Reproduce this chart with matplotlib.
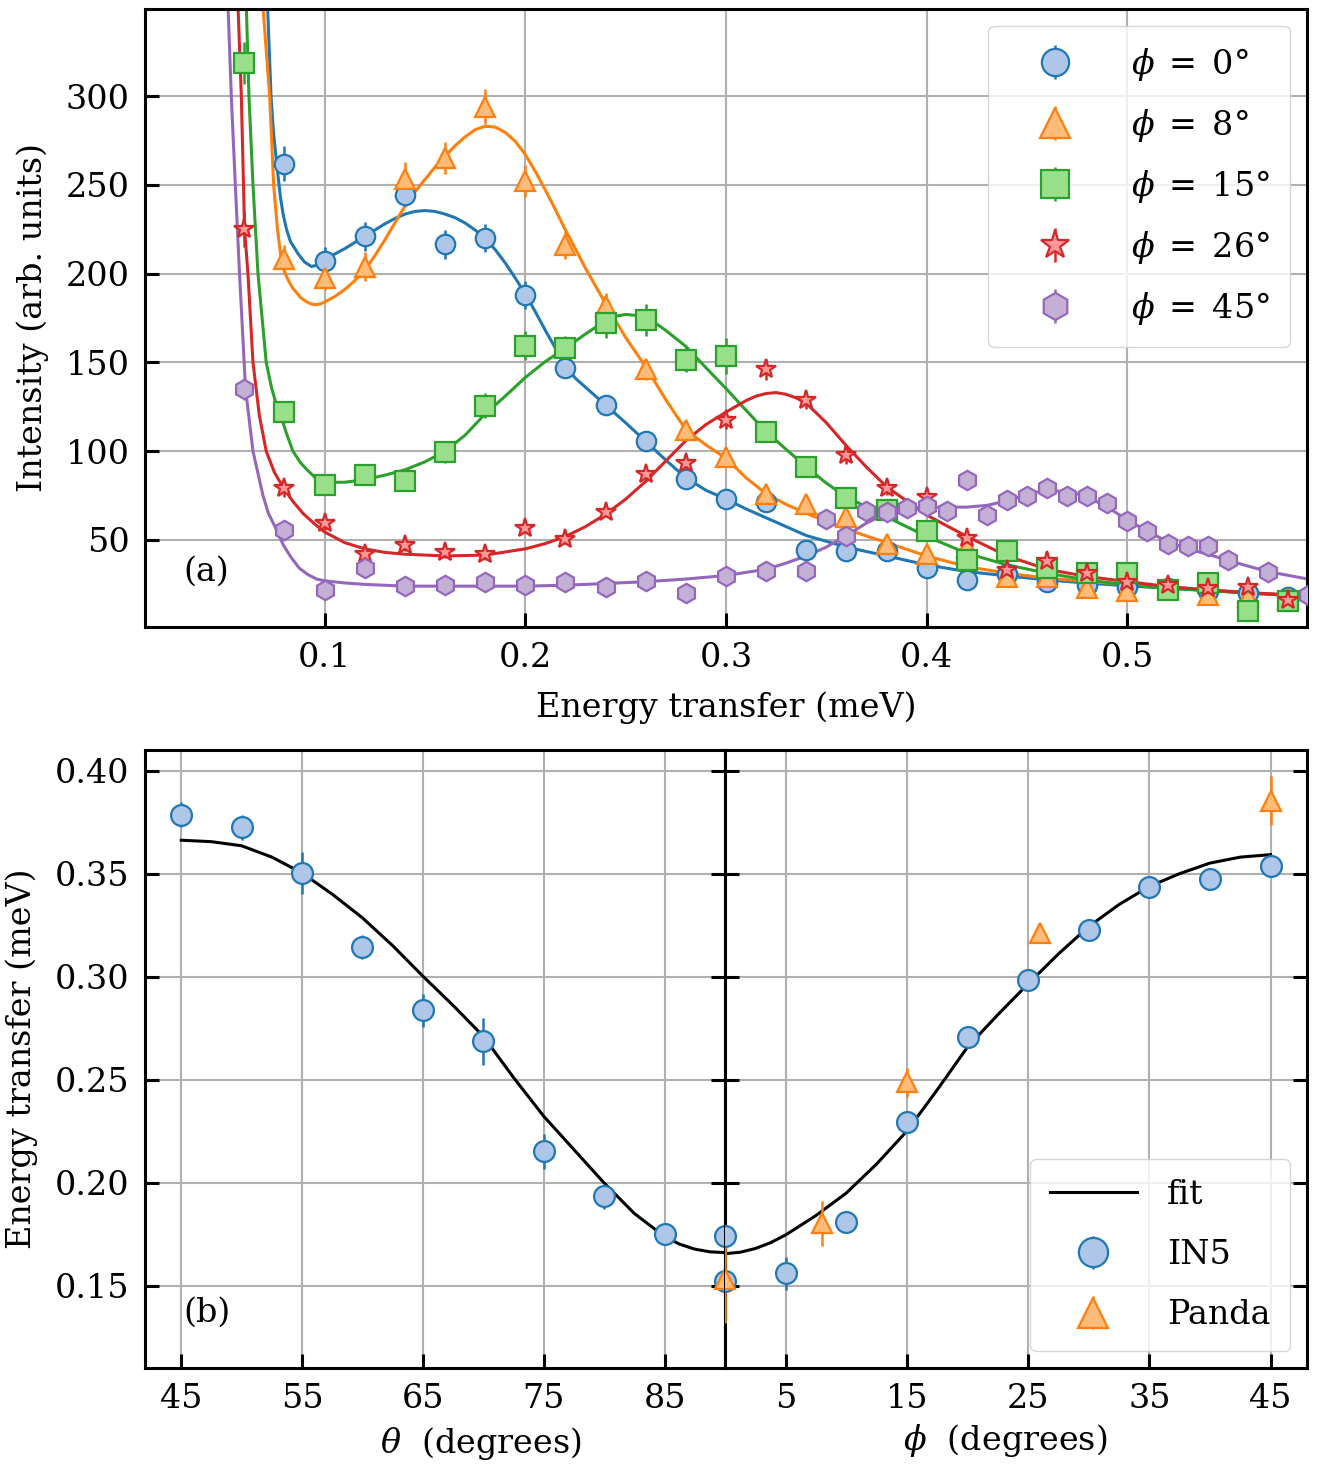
import matplotlib
matplotlib.use("Agg")
import matplotlib.pyplot as plt
from matplotlib.ticker import FormatStrFormatter

plt.rcParams['font.family'] = ['DejaVu Serif']
plt.rcParams['mathtext.fontset'] = 'dejavuserif'
plt.rcParams['font.size'] = 24

# ---- Painel (a): espectros medidos para cada angulo phi ----
energia = [0.06, 0.08, 0.10, 0.12, 0.14, 0.16, 0.18, 0.20, 0.22, 0.24, 0.26, 0.28, 0.30, 0.32,
           0.34, 0.36, 0.38, 0.40, 0.42, 0.44, 0.46, 0.48, 0.50, 0.52, 0.54, 0.56, 0.58]
energia_08 = energia[1:]

int_phi0 = [262, 207, 221, 244, 216.5, 220, 188, 147, 126, 105.5, 84.5, 73, 71.5, 44.5, 44, 44,
            34, 27.5, 31, 26.5, 24.5, 23.5, 23, 21, 20, 18]
err_phi0 = [10, 8, 8, 6, 8, 8, 8, 6, 5, 5, 4, 4, 4, 3, 3, 3, 3, 3, 3, 3, 3, 3, 3, 3, 3, 3]

int_phi8 = [208, 197.5, 204, 253, 265, 294, 252, 216, 182, 146, 112, 97, 76, 70, 63, 48, 42, 46,
            29, 29, 23, 21, 23, 19, 18, 17]
err_phi8 = [8, 7, 8, 10, 9, 10, 9, 8, 7, 6, 5, 5, 4, 4, 4, 3, 3, 3, 3, 3, 3, 3, 3, 3, 3, 3]

int_phi15 = [318.5, 122, 81, 86.5, 83, 99.5, 125.5, 159.5, 158, 172, 174, 151.5, 153.5, 111, 91,
             73.5, 67, 55, 38.5, 44, 34, 31.5, 31.5, 22, 25.5, 10, 15.5]
err_phi15 = [12, 6, 5, 5, 5, 6, 7, 8, 7, 8, 9, 7, 10, 6, 5, 4, 4, 4, 3, 3, 3, 3, 3, 3, 3, 3, 3]

int_phi26 = [225, 79, 59.5, 42, 47, 43, 42, 57, 50.5, 66, 87, 93.5, 117.5, 146, 129, 98, 79.5,
             74.3, 51, 33, 38, 31.6, 26.6, 24.7, 23.2, 23.8, 16.3]
err_phi26 = [10, 5, 4, 3, 3, 3, 3, 3, 3, 3, 4, 4, 5, 6, 5, 5, 4, 4, 3, 3, 3, 3, 3, 3, 3, 3, 3]

energia_45 = [0.06, 0.08, 0.10, 0.12, 0.14, 0.16, 0.18, 0.20, 0.22, 0.24, 0.26, 0.28, 0.30, 0.32,
              0.34, 0.35, 0.36, 0.37, 0.38, 0.39, 0.40, 0.41, 0.42, 0.43, 0.44, 0.45, 0.46, 0.47,
              0.48, 0.49, 0.50, 0.51, 0.52, 0.53, 0.54, 0.55, 0.57, 0.59]
int_phi45 = [135, 55.5, 22, 34.5, 24, 24.7, 26.5, 24.7, 26.5, 23.5, 27, 20.3, 29.7, 32.5, 32.5,
             62, 52, 66.5, 65.5, 68, 69, 66.5, 83.5, 64, 72.5, 74.5, 79, 74.5, 74.5, 71, 60.5,
             55, 47.5, 46.5, 46.5, 39, 32, 19]
err_phi45 = [6, 3, 3, 5, 3, 3, 3, 3, 3, 3, 3, 3, 3, 3, 3, 3, 3, 3, 3, 3, 3, 3, 5, 3, 3, 3, 5, 3,
             3, 3, 3, 3, 3, 3, 3, 3, 3, 3]

# curvas de ajuste
fit0_x = [0.0705, 0.0716, 0.0733, 0.0745, 0.0761, 0.078, 0.0794, 0.081, 0.083, 0.0869, 0.09,
          0.0935, 0.097, 0.10, 0.105, 0.11, 0.115, 0.12, 0.125, 0.13, 0.135, 0.14, 0.145, 0.15,
          0.155, 0.16, 0.165, 0.17, 0.175, 0.18, 0.185, 0.19, 0.195, 0.20, 0.205, 0.21, 0.215,
          0.22, 0.225, 0.23, 0.24, 0.25, 0.26, 0.27, 0.28, 0.29, 0.30, 0.31, 0.32, 0.34, 0.36,
          0.38, 0.40, 0.42, 0.44, 0.46, 0.48, 0.50, 0.52, 0.55, 0.59]
fit0_y = [380, 350, 300, 280, 262, 243, 233, 225, 218, 211, 206.5, 204, 205, 207.5, 211, 214,
          217.5, 221, 224.5, 228, 231, 233.5, 235, 235.5, 235, 233.5, 231.5, 228.5, 224.5, 220,
          213.5, 206, 197.5, 188.5, 178.5, 168, 158, 148, 141, 136, 126, 116, 105.5, 95, 85, 78,
          73, 67.5, 62.5, 52.5, 46, 41, 36, 32.2, 29.8, 27.5, 25.7, 24.2, 22.8, 21, 18.2]

fit8_x = [0.068, 0.0693, 0.0726, 0.0746, 0.0765, 0.0784, 0.08, 0.082, 0.084, 0.0859, 0.088,
          0.0905, 0.093, 0.0954, 0.098, 0.10, 0.105, 0.11, 0.115, 0.12, 0.125, 0.13, 0.135, 0.14,
          0.145, 0.15, 0.155, 0.16, 0.165, 0.17, 0.175, 0.18, 0.185, 0.19, 0.195, 0.20, 0.205,
          0.21, 0.215, 0.22, 0.23, 0.24, 0.25, 0.26, 0.27, 0.28, 0.29, 0.30, 0.31, 0.32, 0.33,
          0.34, 0.36, 0.38, 0.40, 0.42, 0.44, 0.46, 0.48, 0.50, 0.52, 0.55, 0.59]
fit8_y = [380, 350, 300, 250, 225, 208, 201, 196, 192, 189.5, 186.5, 184.5, 183, 182.5, 183, 184,
          187, 191, 196, 202, 210, 219, 228.5, 238, 246, 253, 260, 266, 272, 277, 281, 283,
          282.5, 279.5, 274.5, 267, 257.5, 247, 236, 224.5, 203, 183, 164, 147.5, 129, 112,
          103.5, 96, 85, 76, 70, 65, 56, 48.5, 41, 35, 31.3, 28.5, 26.6, 25.1, 23.4, 21, 18.2]

fit15_x = [0.0605, 0.061, 0.0623, 0.0643, 0.0668, 0.0709, 0.0735, 0.0755, 0.0776, 0.081, 0.0842,
           0.088, 0.0917, 0.095, 0.10, 0.11, 0.12, 0.13, 0.14, 0.15, 0.16, 0.17, 0.18, 0.19,
           0.20, 0.21, 0.22, 0.23, 0.24, 0.245, 0.25, 0.255, 0.26, 0.265, 0.27, 0.28, 0.29,
           0.30, 0.31, 0.32, 0.33, 0.34, 0.35, 0.36, 0.38, 0.40, 0.42, 0.44, 0.46, 0.48, 0.50,
           0.52, 0.54, 0.56, 0.59]
fit15_y = [380, 350, 300, 250, 200, 150, 136, 128, 122, 110, 100, 93.5, 89, 85.5, 82.5, 82.5,
           84, 86.5, 89.5, 94, 100, 109, 121, 131, 141.5, 150.5, 158, 166, 173.5, 176, 177,
           176.5, 175, 172, 168, 159, 147, 135.3, 123, 111, 101, 91.2, 82, 74.2, 63, 52, 42.5,
           36, 31.3, 27.5, 24.7, 22.8, 21.5, 20, 18.2]

fit26_x = [0.0562, 0.0568, 0.0585, 0.0601, 0.0618, 0.0643, 0.0675, 0.0709, 0.075, 0.0797, 0.084,
           0.0892, 0.095, 0.10, 0.11, 0.12, 0.13, 0.14, 0.16, 0.18, 0.20, 0.21, 0.22, 0.23, 0.24,
           0.25, 0.26, 0.27, 0.28, 0.29, 0.30, 0.31, 0.315, 0.32, 0.325, 0.33, 0.335, 0.34,
           0.35, 0.36, 0.37, 0.38, 0.39, 0.40, 0.42, 0.44, 0.46, 0.48, 0.50, 0.52, 0.54, 0.56,
           0.59]
fit26_y = [380, 352, 300, 225, 200, 150, 120, 100, 88, 79, 72, 65, 59, 54.5, 48.5, 45, 43, 42,
           41, 41.5, 45, 48, 52, 57.5, 64.5, 73, 83, 94.5, 106, 115, 122, 128.5, 131, 132.5,
           133, 132, 130, 127, 116, 103, 91, 80, 72, 64, 52, 41, 33.5, 29.4, 26.6, 23.8, 21.9,
           20.4, 18.5]

fit45_x = [0.0512, 0.0518, 0.0535, 0.0555, 0.0576, 0.0606, 0.0643, 0.0693, 0.072, 0.0759,
           0.0795, 0.0834, 0.0875, 0.0917, 0.096, 0.10, 0.11, 0.12, 0.14, 0.20, 0.22, 0.26,
           0.28, 0.30, 0.32, 0.33, 0.34, 0.35, 0.36, 0.37, 0.38, 0.39, 0.40, 0.42, 0.43, 0.44,
           0.45, 0.455, 0.46, 0.465, 0.47, 0.475, 0.48, 0.49, 0.50, 0.51, 0.52, 0.53, 0.54,
           0.55, 0.57, 0.59]
fit45_y = [380, 353, 300, 250, 200, 135, 100, 75, 65, 56, 47, 40, 34, 30.5, 28, 27, 25.8, 25,
           24, 24, 24.5, 26.5, 28, 30, 33.5, 37, 41, 46, 52.5, 59.5, 65, 68, 68.5, 68.5, 69.5,
           72, 75.5, 77, 77.5, 77.6, 77, 76, 74.3, 68.5, 61.2, 55, 49, 45, 42, 38.5, 32.2, 28]

rotulos_phi = ['$\\phi\\;=\\;0$°', '$\\phi\\;=\\;8$°', '$\\phi\\;=\\;15$°',
               '$\\phi\\;=\\;26$°', '$\\phi\\;=\\;45$°']

# ---- Painel (b): energia do pico vs angulo ----
theta_in5 = [45, 50, 55, 60, 65, 70, 75, 80, 85, 90, 90]
e_theta_in5 = [0.3786, 0.3725, 0.3503, 0.3144, 0.2837, 0.2686, 0.2151, 0.1933, 0.175, 0.1743, 0.152]
err_theta_in5 = [0.006, 0.006, 0.0103, 0.0057, 0.008, 0.0113, 0.0083, 0.006, 0.004, 0.004, 0.005]
theta_panda = [90]
e_theta_panda = [0.153]
err_theta_panda = [0.021]
fit_theta = [45, 47.5, 50, 52.5, 55, 57.5, 60, 62.5, 65, 67.5, 70, 72.5, 75, 77.5, 80, 82.5, 85,
             86.25, 87.5, 88.75, 90]
fit_e_theta = [0.3662, 0.3655, 0.3635, 0.358, 0.3503, 0.340, 0.3285, 0.315, 0.3002, 0.286, 0.271,
               0.251, 0.2322, 0.216, 0.1998, 0.185, 0.1738, 0.1701, 0.1677, 0.1664, 0.166]

phi_in5 = [0, 0, 5, 10, 15, 20, 25, 30, 35, 40, 45]
e_phi_in5 = [0.1743, 0.152, 0.156, 0.1811, 0.2293, 0.2708, 0.2984, 0.3224, 0.3433, 0.3473, 0.3538]
err_phi_in5 = [0.004, 0.005, 0.008, 0.004, 0.004, 0.004, 0.004, 0.004, 0.004, 0.004, 0.004]
phi_panda = [0, 8, 15, 26, 45]
e_phi_panda = [0.153, 0.1803, 0.2486, 0.3211, 0.3854]
err_phi_panda = [0.021, 0.011, 0.007, 0.004, 0.012]
fit_phi = [0, 1.25, 2.5, 3.75, 5, 7.5, 10, 12.5, 15, 17.5, 20, 22.5, 25, 27.5, 30, 32.5, 35, 37.5,
           40, 42.5, 45]
fit_e_phi = [0.1655, 0.1662, 0.168, 0.1708, 0.1746, 0.184, 0.1949, 0.209, 0.225, 0.245, 0.2658,
             0.2815, 0.2965, 0.311, 0.3243, 0.335, 0.3438, 0.350, 0.3551, 0.358, 0.3592]

# cores (borda, preenchimento) e marcadores
cores = ['#1f77b4', '#ff7f0e', '#2ca02c', '#d62728', '#9467bd']
preench = ['#aec7e8', '#ffbb78', '#98df8a', '#ff9896', '#c5b0d5']
marcadores = ['o', '^', 's', '*', 'h']
tamanhos = [14, 15, 14, 15, 14]

fig = plt.figure(figsize=(13.25, 14.71), dpi=100)
W, H = 1325, 1471
ax_a = fig.add_axes([145 / W, 1 - 627 / H, 1162 / W, 618 / H])
ax_b1 = fig.add_axes([145 / W, 1 - 1368 / H, 580 / W, 618 / H])
ax_b2 = fig.add_axes([725 / W, 1 - 1368 / H, 582 / W, 618 / H], sharey=ax_b1)

for ax in (ax_a, ax_b1, ax_b2):
    ax.grid(True, color='#b0b0b0', lw=1.5)
    ax.set_axisbelow(True)
    for s in ax.spines.values():
        s.set_linewidth(2.2)
    ax.tick_params(direction='in', length=10, width=2.2, pad=11)

# painel (a)
dados = [(energia_08, int_phi0, err_phi0, fit0_x, fit0_y),
         (energia_08, int_phi8, err_phi8, fit8_x, fit8_y),
         (energia, int_phi15, err_phi15, fit15_x, fit15_y),
         (energia, int_phi26, err_phi26, fit26_x, fit26_y),
         (energia_45, int_phi45, err_phi45, fit45_x, fit45_y)]
for i, (x, y, e, fx, fy) in enumerate(dados):
    ax_a.errorbar(x, y, yerr=e, fmt=marcadores[i], ms=tamanhos[i], mfc=preench[i],
                  mec=cores[i], mew=1.6, ecolor=cores[i], elinewidth=1.8, capsize=0,
                  label=rotulos_phi[i], zorder=3)
    ax_a.plot(fx, fy, color=cores[i], lw=2.2, zorder=2)

ax_a.set_xlim(0.0105, 0.5895)
ax_a.set_ylim(1, 349)
ax_a.set_xticks([0.1, 0.2, 0.3, 0.4, 0.5])
ax_a.set_yticks([50, 100, 150, 200, 250, 300])
ax_a.set_xlabel('Energy transfer (meV)', labelpad=12)
ax_a.set_ylabel('Intensity (arb. units)', labelpad=12)
ax_a.text(0.033, 0.09, '(a)', transform=ax_a.transAxes, va='center', ha='left')
ax_a.legend(loc='upper right', markerscale=1.4, handlelength=2.8, handletextpad=0.9,
            labelspacing=0.72, borderpad=0.6)

# painel (b) esquerdo: theta
ax_b1.errorbar(theta_in5, e_theta_in5, yerr=err_theta_in5, fmt='o', ms=15, mfc=preench[0],
               mec=cores[0], mew=1.6, ecolor=cores[0], elinewidth=1.8, capsize=0, zorder=3)
ax_b1.errorbar(theta_panda, e_theta_panda, yerr=err_theta_panda, fmt='^', ms=15,
               mfc=preench[1], mec=cores[1], mew=1.6, ecolor=cores[1], elinewidth=1.8,
               capsize=0, zorder=3)
ax_b1.plot(fit_theta, fit_e_theta, color='black', lw=2.2, zorder=2)
ax_b1.set_xlim(42, 90)
ax_b1.set_ylim(0.11, 0.41)
ax_b1.set_xticks([45, 55, 65, 75, 85])
ax_b1.set_yticks([0.15, 0.20, 0.25, 0.30, 0.35, 0.40])
ax_b1.yaxis.set_major_formatter(FormatStrFormatter('%.2f'))
ax_b1.tick_params(right=True)
ax_b1.set_xlabel('$\\theta$  (degrees)')
ax_b1.xaxis.set_label_coords(0.579, -0.093)
ax_b1.set_ylabel('Energy transfer (meV)', labelpad=12)
ax_b1.text(0.066, 0.09, '(b)', transform=ax_b1.transAxes, va='center', ha='left')

# painel (b) direito: phi
ax_b2.plot(fit_phi, fit_e_phi, color='black', lw=2.2, zorder=2, label='fit')
ax_b2.errorbar(phi_in5, e_phi_in5, yerr=err_phi_in5, fmt='o', ms=15, mfc=preench[0],
               mec=cores[0], mew=1.6, ecolor=cores[0], elinewidth=1.8, capsize=0, zorder=3,
               label='IN5')
ax_b2.errorbar(phi_panda, e_phi_panda, yerr=err_phi_panda, fmt='^', ms=15, mfc=preench[1],
               mec=cores[1], mew=1.6, ecolor=cores[1], elinewidth=1.8, capsize=0, zorder=3,
               label='Panda')
ax_b2.set_xlim(0, 48)
ax_b2.set_xticks([5, 15, 25, 35, 45])
ax_b2.tick_params(left=True, right=True, labelleft=False)
ax_b2.set_xlabel('$\\phi$  (degrees)')
ax_b2.xaxis.set_label_coords(0.481, -0.088)
ax_b2.legend(loc='lower right', markerscale=1.4, handlelength=2.6, handletextpad=0.9,
             labelspacing=0.85, borderpad=0.6)

fig.savefig('out.png', dpi=100)
